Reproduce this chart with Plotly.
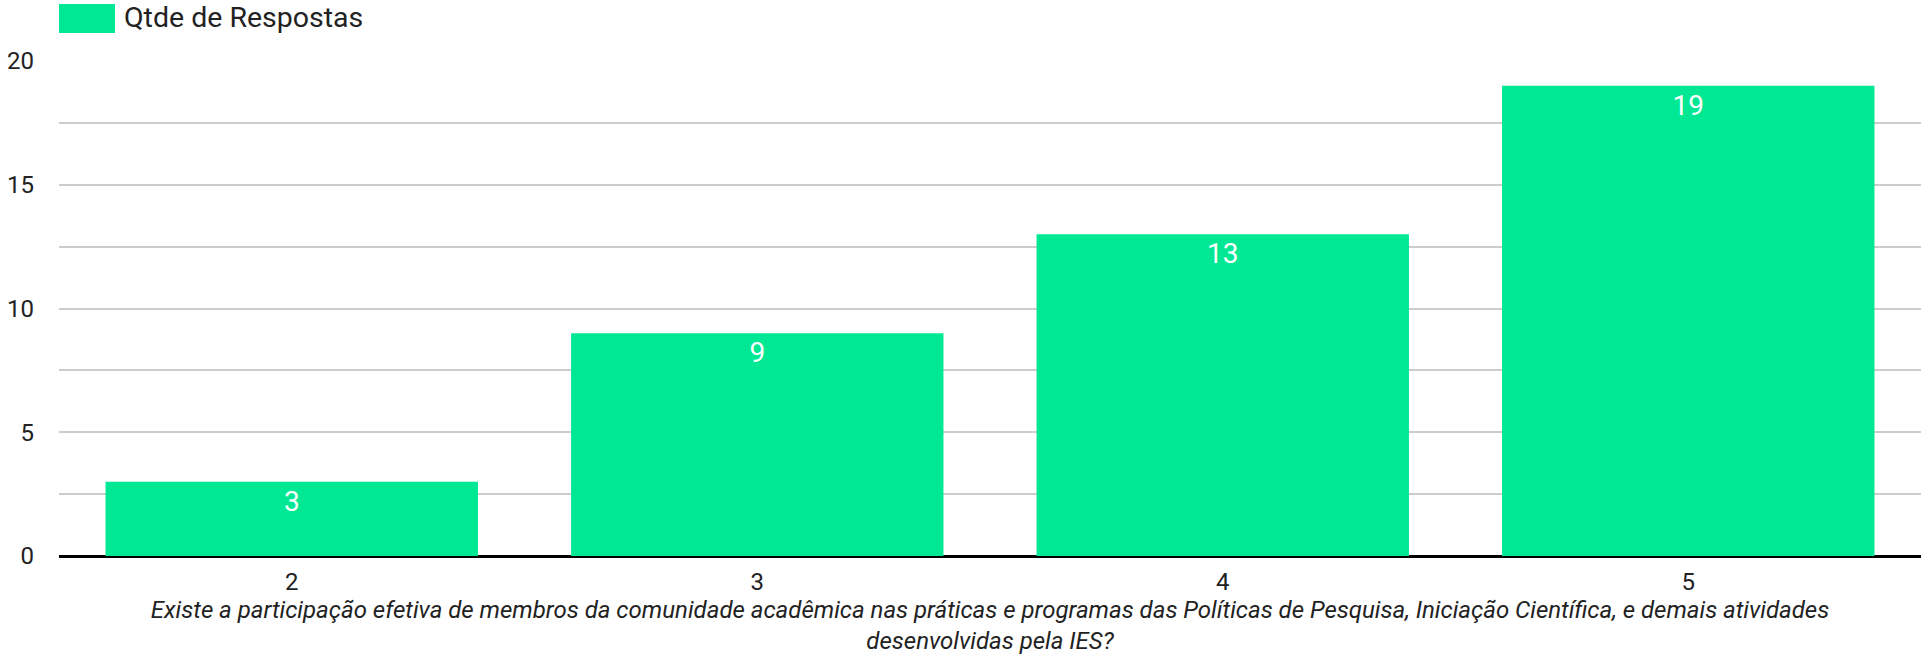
import plotly.graph_objects as go

categories = ["2", "3", "4", "5"]
values = [3, 9, 13, 19]
series_name = "Qtde de Respostas"
x_title = ("Existe a participação efetiva de membros da comunidade acadêmica nas práticas e programas "
           "das Políticas de Pesquisa, Iniciação Científica, e demais atividades<br>desenvolvidas pela IES?")

BAR = "#00e893"
FONT = "Roboto"
W, H = 1921, 655
ML, MR, MT, MB = 59, 0, 61, 99
PLOT_W = W - ML - MR
PLOT_H = H - MT - MB

fig = go.Figure()
fig.add_trace(go.Bar(
    x=categories, y=values, name=series_name,
    marker=dict(color=BAR, line=dict(width=0)),
    text=[str(v) for v in values], textposition="inside", insidetextanchor="end",
    textangle=0, constraintext="none",
    textfont=dict(family=FONT, size=28, color="white"),
    showlegend=False, hoverinfo="x+y",
))

fig.update_layout(
    width=W, height=H,
    margin=dict(l=ML, r=MR, t=MT, b=MB, autoexpand=False),
    paper_bgcolor="white", plot_bgcolor="white",
    bargap=0.2,
    font=dict(family=FONT, size=22, color="#222222"),
    xaxis=dict(
        type="category", showgrid=False, ticks="", showline=False,
        ticklabelstandoff=9,
        tickfont=dict(family=FONT, size=24, color="#222222"),
        title=dict(text=x_title, standoff=1,
                   font=dict(family=FONT, size=24, color="#222222", style="italic")),
    ),
    yaxis=dict(
        range=[0, 20], dtick=5, showgrid=True, gridcolor="#cccccc", gridwidth=2,
        minor=dict(dtick=2.5, showgrid=True, gridcolor="#cccccc", gridwidth=2),
        zeroline=True, zerolinecolor="#000000", zerolinewidth=3,
        ticks="", ticklabelstandoff=24,
        tickfont=dict(family=FONT, size=24, color="#222222"),
        fixedrange=True,
    ),
    shapes=[dict(type="rect", xref="paper", yref="paper",
                 x0=0, x1=56 / PLOT_W, y0=1 + 28 / PLOT_H, y1=1 + 57 / PLOT_H,
                 fillcolor=BAR, line=dict(width=0))],
    annotations=[dict(text=series_name, xref="paper", yref="paper",
                      x=64 / PLOT_W, y=1 + 43.5 / PLOT_H, xanchor="left", yanchor="middle",
                      borderpad=0,
                      showarrow=False, font=dict(family=FONT, size=28.5, color="#222222"))],
)

fig.write_html("out.html", config={"displayModeBar": False},
               post_script="document.body.style.margin='0';document.body.style.overflow='hidden';")
